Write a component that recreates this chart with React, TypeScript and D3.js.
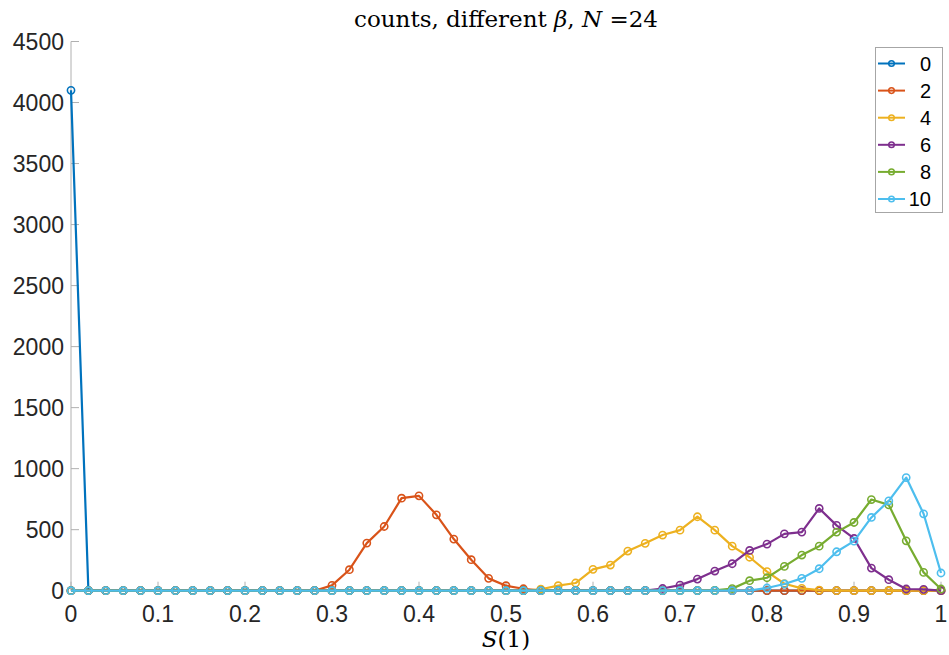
import React, { useEffect, useRef } from "react";
import * as d3 from "d3";

const xValues = [
  0, 0.02, 0.04, 0.06, 0.08, 0.1, 0.12, 0.14, 0.16, 0.18,
  0.2, 0.22, 0.24, 0.26, 0.28, 0.3, 0.32, 0.34, 0.36, 0.38,
  0.4, 0.42, 0.44, 0.46, 0.48, 0.5, 0.52, 0.54, 0.56, 0.58,
  0.6, 0.62, 0.64, 0.66, 0.68, 0.7, 0.72, 0.74, 0.76, 0.78,
  0.8, 0.82, 0.84, 0.86, 0.88, 0.9, 0.92, 0.94, 0.96, 0.98, 1,
];

const beta0 = [
  4100, 0, 0, 0, 0, 0, 0, 0, 0, 0,
  0, 0, 0, 0, 0, 0, 0, 0, 0, 0,
  0, 0, 0, 0, 0, 0, 0, 0, 0, 0,
  0, 0, 0, 0, 0, 0, 0, 0, 0, 0,
  0, 0, 0, 0, 0, 0, 0, 0, 0, 0, 0,
];
const beta2 = [
  0, 0, 0, 0, 0, 0, 0, 0, 0, 0,
  0, 0, 0, 0, 0, 44, 172, 390, 526, 758,
  777, 622, 423, 254, 101, 41, 16, 0, 0, 0,
  0, 0, 0, 0, 0, 0, 0, 0, 0, 0,
  0, 0, 0, 0, 0, 0, 0, 0, 0, 0, 0,
];
const beta4 = [
  0, 0, 0, 0, 0, 0, 0, 0, 0, 0,
  0, 0, 0, 0, 0, 0, 0, 0, 0, 0,
  0, 0, 0, 0, 0, 0, 0, 12, 41, 63,
  175, 210, 325, 388, 456, 496, 606, 496, 365, 274,
  156, 57, 19, 5, 0, 0, 0, 0, 0, 0, 0,
];
const beta6 = [
  0, 0, 0, 0, 0, 0, 0, 0, 0, 0,
  0, 0, 0, 0, 0, 0, 0, 0, 0, 0,
  0, 0, 0, 0, 0, 0, 0, 0, 0, 0,
  0, 0, 0, 0, 18, 46, 95, 161, 221, 330,
  382, 466, 480, 674, 535, 428, 185, 90, 14, 11, 0,
];
const beta8 = [
  0, 0, 0, 0, 0, 0, 0, 0, 0, 0,
  0, 0, 0, 0, 0, 0, 0, 0, 0, 0,
  0, 0, 0, 0, 0, 0, 0, 0, 0, 0,
  0, 0, 0, 0, 0, 0, 0, 3, 17, 82,
  106, 199, 292, 365, 480, 559, 747, 703, 409, 150, 14,
];
const beta10 = [
  0, 0, 0, 0, 0, 0, 0, 0, 0, 0,
  0, 0, 0, 0, 0, 0, 0, 0, 0, 0,
  0, 0, 0, 0, 0, 0, 0, 0, 0, 0,
  0, 0, 0, 0, 0, 0, 0, 0, 0, 0,
  22, 55, 101, 180, 319, 406, 600, 736, 927, 630, 145,
];

const seriesNames = ["0", "2", "4", "6", "8", "10"];
const seriesValues = [beta0, beta2, beta4, beta6, beta8, beta10];
const seriesColors = ["#0072BD", "#D95319", "#EDB120", "#7E2F8E", "#77AC30", "#4DBEEE"];

const xTicks = [0, 0.1, 0.2, 0.3, 0.4, 0.5, 0.6, 0.7, 0.8, 0.9, 1];
const xTickLabels = ["0", "0.1", "0.2", "0.3", "0.4", "0.5", "0.6", "0.7", "0.8", "0.9", "1"];
const yTicks = [0, 500, 1000, 1500, 2000, 2500, 3000, 3500, 4000, 4500];

const W = 949;
const H = 655;
const M = { left: 71, right: 941, top: 41.5, bottom: 590.7 };

export default function App() {
  const ref = useRef<SVGSVGElement>(null);

  useEffect(() => {
    const svg = d3.select(ref.current);
    svg.selectAll("*").remove();

    const x = d3.scaleLinear().domain([0, 1]).range([M.left, M.right]);
    const y = d3.scaleLinear().domain([0, 4500]).range([M.bottom, M.top]);
    const axisColor = "#b0b0b0";
    const textColor = "#262626";
    const sans = "'Liberation Sans', Arial, Helvetica, sans-serif";
    const serif = "'DejaVu Serif', 'Liberation Serif', serif";

    svg.append("line").attr("x1", M.left).attr("x2", M.left).attr("y1", M.top).attr("y2", M.bottom)
      .attr("stroke", axisColor).attr("stroke-width", 1);
    svg.append("line").attr("x1", M.left).attr("x2", M.right).attr("y1", M.bottom).attr("y2", M.bottom)
      .attr("stroke", axisColor).attr("stroke-width", 1);

    yTicks.forEach((t) => {
      svg.append("line").attr("x1", M.left).attr("x2", M.left + 8).attr("y1", y(t)).attr("y2", y(t))
        .attr("stroke", axisColor).attr("stroke-width", 1);
      svg.append("text").attr("x", M.left - 7).attr("y", y(t)).attr("dy", "0.36em")
        .attr("text-anchor", "end").attr("font-family", sans).attr("font-size", 23)
        .attr("fill", textColor).text(String(t));
    });

    xTicks.forEach((t, i) => {
      svg.append("line").attr("x1", x(t)).attr("x2", x(t)).attr("y1", M.bottom).attr("y2", M.bottom - 9)
        .attr("stroke", axisColor).attr("stroke-width", 1);
      svg.append("text").attr("x", x(t)).attr("y", 622)
        .attr("text-anchor", "middle").attr("font-family", sans).attr("font-size", 23)
        .attr("fill", textColor).text(xTickLabels[i]);
    });

    const title = svg.append("text").attr("x", (M.left + M.right) / 2).attr("y", 27)
      .attr("text-anchor", "middle").attr("font-family", serif).attr("font-size", 23).attr("fill", "#000");
    title.append("tspan").text("counts, different ");
    title.append("tspan").attr("font-style", "italic").text("β");
    title.append("tspan").text(", ");
    title.append("tspan").attr("font-style", "italic").text("N");
    title.append("tspan").text(" =24");

    const xl = svg.append("text").attr("x", (M.left + M.right) / 2).attr("y", 647)
      .attr("text-anchor", "middle").attr("font-family", serif).attr("font-size", 23).attr("fill", "#000");
    xl.append("tspan").attr("font-style", "italic").text("S");
    xl.append("tspan").text("(1)");

    const line = d3.line<number>().x((_, i) => x(xValues[i])).y((d) => y(d));
    seriesValues.forEach((vals, si) => {
      const g = svg.append("g");
      g.append("path").attr("d", line(vals) as string).attr("fill", "none")
        .attr("stroke", seriesColors[si]).attr("stroke-width", 2.2).attr("stroke-linejoin", "round");
      g.selectAll("circle").data(vals).join("circle")
        .attr("cx", (_, i) => x(xValues[i])).attr("cy", (d) => y(d)).attr("r", 3.6)
        .attr("fill", "none").attr("stroke", seriesColors[si]).attr("stroke-width", 1.6);
    });

    const lg = svg.append("g");
    lg.append("rect").attr("x", 875.5).attr("y", 47.5).attr("width", 67).attr("height", 165)
      .attr("fill", "#fff").attr("stroke", "#a6a6a6").attr("stroke-width", 1);
    seriesNames.forEach((name, i) => {
      const yy = 63.5 + i * 27.1;
      lg.append("line").attr("x1", 878).attr("x2", 905).attr("y1", yy).attr("y2", yy)
        .attr("stroke", seriesColors[i]).attr("stroke-width", 2);
      lg.append("circle").attr("cx", 891.5).attr("cy", yy).attr("r", 2.8)
        .attr("fill", "none").attr("stroke", seriesColors[i]).attr("stroke-width", 1.5);
      lg.append("text").attr("x", 931).attr("y", yy).attr("dy", "0.36em").attr("text-anchor", "end")
        .attr("font-family", sans).attr("font-size", 20).attr("fill", "#000").text(name);
    });
  }, []);

  return (
    <svg ref={ref} width={W} height={H}
      style={{ position: "absolute", left: 0, top: 0, background: "#fff" }} />
  );
}
